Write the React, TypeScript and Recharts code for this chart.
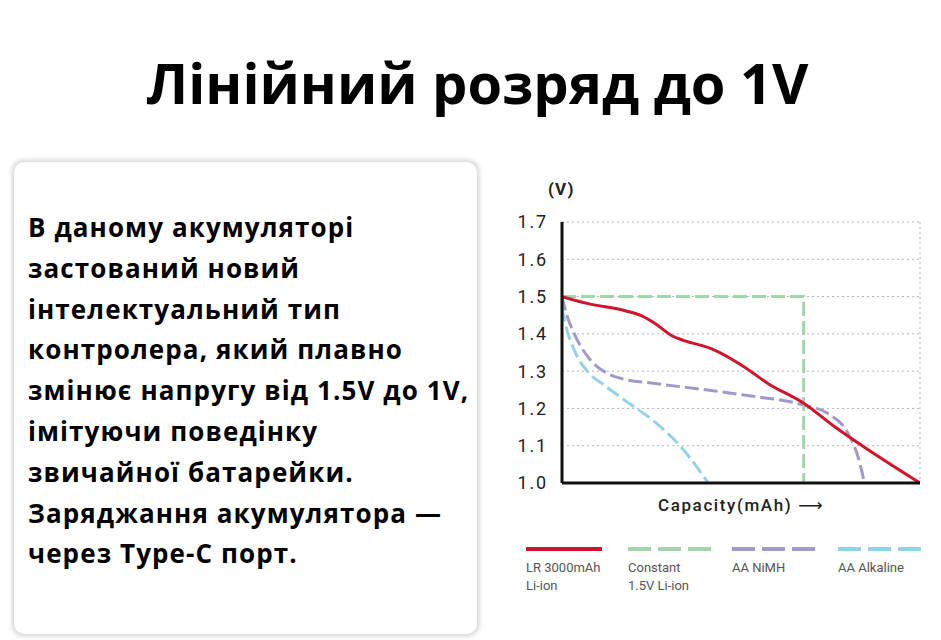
import React from 'react';
import { LineChart, Line, XAxis, YAxis, CartesianGrid } from 'recharts';

const TITLE = 'Лінійний розряд до 1V';
const BODY_LINES = [
  'В даному акумуляторі',
  'застований новий',
  'інтелектуальний тип',
  'контролера, який плавно',
  'змінює напругу від 1.5V до 1V,',
  'імітуючи поведінку',
  'звичайної батарейки.',
  'Заряджання акумулятора —',
  'через Type-C порт.',
];

const voltageTicks = [1.0, 1.1, 1.2, 1.3, 1.4, 1.5, 1.6, 1.7];
const capacityTicks = [0, 1, 2, 3, 4, 5, 6];

const lrCapacity = [0, 0.44, 1.06, 1.33, 1.56, 1.84, 2.05, 2.51, 3.05, 3.45, 4.05, 4.57, 5.05, 6.0];
const lrVoltage = [1.5, 1.481, 1.462, 1.449, 1.428, 1.395, 1.382, 1.36, 1.312, 1.267, 1.214, 1.151, 1.098, 1.0];

const constCapacity = [0, 4.05, 4.05];
const constVoltage = [1.5, 1.5, 1.0];

const nimhCapacity = [0, 0.05, 0.22, 0.44, 0.77, 1.0, 1.56, 2.5, 3.05, 4.05, 4.45, 4.79, 4.96, 5.07];
const nimhVoltage = [1.5, 1.467, 1.395, 1.337, 1.293, 1.28, 1.267, 1.248, 1.236, 1.209, 1.187, 1.134, 1.071, 1.0];

const alkCapacity = [0, 0.05, 0.22, 0.44, 0.72, 1.06, 1.56, 2.0, 2.45];
const alkVoltage = [1.47, 1.431, 1.351, 1.297, 1.261, 1.221, 1.163, 1.096, 1.0];

const seriesNames = ['LR 3000mAh\nLi-ion', 'Constant\n1.5V Li-ion', 'AA NiMH', 'AA Alkaline'];
const seriesColors = ['#d0142c', '#a3d4ab', '#a09ac8', '#95d2ea'];

const toPoints = (xs: number[], ys: number[]) => xs.map((x, i) => ({ x, y: ys[i] }));

const series = [
  { name: seriesNames[0], color: seriesColors[0], data: toPoints(lrCapacity, lrVoltage), dash: undefined, type: 'monotone' },
  { name: seriesNames[1], color: seriesColors[1], data: toPoints(constCapacity, constVoltage), dash: '14 5', type: 'linear' },
  { name: seriesNames[2], color: seriesColors[2], data: toPoints(nimhCapacity, nimhVoltage), dash: '14 5', type: 'monotone' },
  { name: seriesNames[3], color: seriesColors[3], data: toPoints(alkCapacity, alkVoltage), dash: '14 5', type: 'monotone' },
];

const chartFont = 'Roboto, "DejaVu Sans", sans-serif';

export default function App() {
  const drawOrder = [3, 2, 1, 0];
  return (
    <div style={{ position: 'fixed', left: 0, top: 0, width: 941, height: 640, background: '#fff', overflow: 'hidden' }}>
      <div
        style={{
          position: 'absolute', left: 0, width: 955, top: 40, textAlign: 'center',
          fontFamily: '"Open Sans", sans-serif', fontWeight: 700, fontSize: 56, lineHeight: '84px', color: '#000',
        }}
      >
        {TITLE}
      </div>
      <div
        style={{
          position: 'absolute', left: 14, top: 162, width: 463, height: 472, borderRadius: 10, background: '#fff',
          boxShadow: '0 0 5px 2px rgba(0,0,0,0.18)',
        }}
      />
      <div
        style={{
          position: 'absolute', left: 28, top: 207, fontFamily: '"Open Sans", sans-serif', fontWeight: 700,
          fontSize: 26, lineHeight: '40.8px', letterSpacing: 1.1, color: '#000', whiteSpace: 'nowrap',
        }}
      >
        {BODY_LINES.map((l, i) => (
          <div key={i}>{l}</div>
        ))}
      </div>

      <div style={{ position: 'absolute', left: 548, top: 179, fontFamily: chartFont, fontSize: 17, color: '#222', fontWeight: 700, letterSpacing: 1 }}>(V)</div>

      <div style={{ position: 'absolute', left: 500, top: 170 }}>
        <LineChart width={441} height={340} margin={{ top: 52, right: 21, left: 12, bottom: 26 }}>
          <CartesianGrid stroke="#b5b5b5" strokeDasharray="2 3" strokeWidth={1} />
          <XAxis
            type="number"
            dataKey="x"
            domain={[0, 6]}
            ticks={capacityTicks}
            tick={false}
            tickLine={false}
            height={1}
            axisLine={{ stroke: '#111', strokeWidth: 3 }}
            allowDataOverflow
          />
          <YAxis
            type="number"
            dataKey="y"
            domain={[1.0, 1.7]}
            ticks={voltageTicks}
            tickFormatter={(v: number) => v.toFixed(1)}
            width={50}
            tickLine={false}
            tickMargin={8}
            axisLine={{ stroke: '#111', strokeWidth: 3 }}
            tick={{ fill: '#222', fontSize: 18, fontFamily: chartFont, letterSpacing: 1.8 }}
            allowDataOverflow
          />
          {drawOrder.map((i) => {
            const s = series[i];
            return (
              <Line
                key={i}
                data={s.data}
                dataKey="y"
                type={s.type as any}
                stroke={s.color}
                strokeWidth={3}
                strokeDasharray={s.dash}
                dot={false}
                activeDot={false}
                isAnimationActive={false}
              />
            );
          })}
        </LineChart>
      </div>

      <div style={{ position: 'absolute', left: 658, top: 495, fontFamily: chartFont, fontSize: 17, color: '#222', letterSpacing: 1.6, fontWeight: 500, whiteSpace: 'nowrap' }}>
        Capacity(mAh) <span style={{ letterSpacing: 0 }}>⟶</span>
      </div>

      {series.map((s, i) => {
        const lefts = [526, 628, 732, 838];
        return (
          <div key={i} style={{ position: 'absolute', left: lefts[i], top: 544 }}>
            <svg width={84} height={10} style={{ display: 'block' }}>
              <line x1={0} y1={5} x2={s.dash ? 83 : 76} y2={5} stroke={s.color} strokeWidth={4} strokeDasharray={s.dash ? '23 7' : undefined} />
            </svg>
            <div style={{ fontFamily: chartFont, fontSize: 13, color: '#555', lineHeight: '18px', marginTop: 5, whiteSpace: 'pre' }}>{s.name}</div>
          </div>
        );
      })}
    </div>
  );
}
